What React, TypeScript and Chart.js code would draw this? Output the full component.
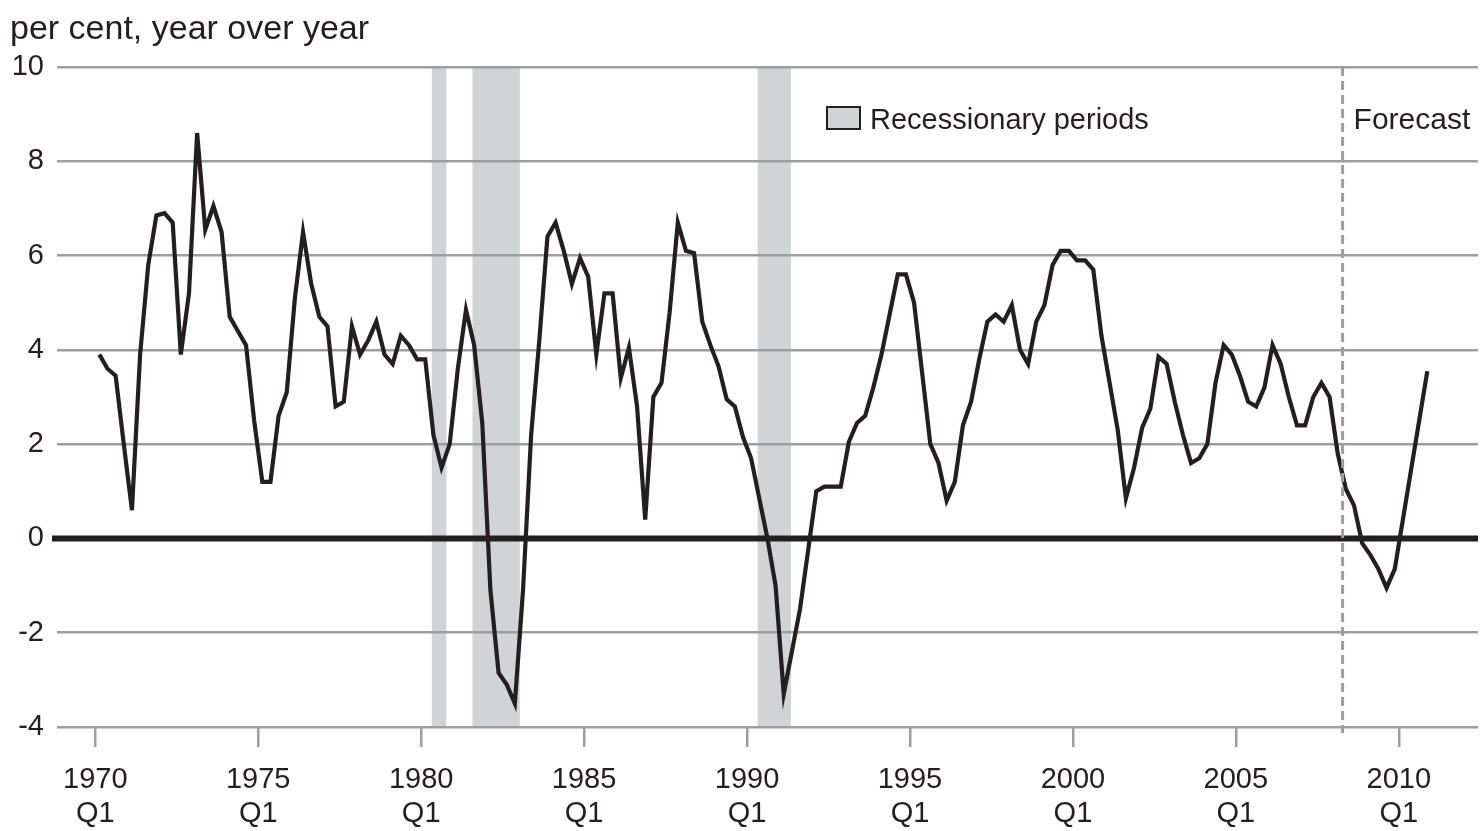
import React, { useEffect, useRef } from 'react';
import { Chart, registerables } from 'chart.js';

Chart.register(...registerables);

// Quarterly growth, per cent year over year, 1970 Q1 .. 2010 Q4
const growth: number[] = [
  3.9, 3.6, 3.45, 2.0, 0.6, 3.9, 5.8, 6.85, 6.9, 6.7,
  3.9, 5.2, 8.6, 6.55, 7.05, 6.5, 4.7, 4.4, 4.1, 2.5,
  1.2, 1.2, 2.6, 3.1, 5.1, 6.5, 5.4, 4.7, 4.5, 2.8,
  2.9, 4.5, 3.9, 4.2, 4.6, 3.9, 3.7, 4.3, 4.1, 3.8,
  3.8, 2.2, 1.5, 2.0, 3.6, 4.85, 4.1, 2.45, -1.1, -2.85,
  -3.1, -3.5, -1.1, 2.2, 4.2, 6.4, 6.7, 6.1, 5.4, 5.95,
  5.55, 3.9, 5.2, 5.2, 3.4, 4.05, 2.8, 0.4, 3.0, 3.3,
  4.8, 6.7, 6.1, 6.05, 4.6, 4.1, 3.65, 2.95, 2.8, 2.15,
  1.7, 0.85, 0.0, -1.0, -3.3, -2.4, -1.5, -0.25, 1.0, 1.1,
  1.1, 1.1, 2.05, 2.45, 2.6, 3.2, 3.9, 4.75, 5.6, 5.6,
  5.0, 3.5, 2.0, 1.6, 0.8, 1.2, 2.4, 2.9, 3.8, 4.6,
  4.75, 4.6, 4.95, 4.0, 3.7, 4.6, 4.95, 5.8, 6.1, 6.1,
  5.9, 5.9, 5.7, 4.3, 3.3, 2.3, 0.85, 1.5, 2.35, 2.75,
  3.85, 3.7, 2.9, 2.2, 1.6, 1.7, 2.0, 3.3, 4.1, 3.9,
  3.45, 2.9, 2.8, 3.2, 4.1, 3.7, 3.0, 2.4, 2.4, 3.0,
  3.3, 3.0, 1.8, 1.05, 0.7, -0.1, -0.35, -0.65, -1.05, -0.65,
  0.4, 1.45, 2.5, 3.55,
];

// x axis: quarters counted from 1970 Q1 (data points sit mid-quarter)
const tickYears = ['1970', '1975', '1980', '1985', '1990', '1995', '2000', '2005', '2010'];
const tickQuarterLabel = 'Q1';
const yTickValues = [-4, -2, 0, 2, 4, 6, 8, 10];

// recession shading and forecast start, in quarters from 1970 Q1
const recessionStart = [41.3, 46.3, 81.3];
const recessionEnd = [43.1, 52.1, 85.4];
const forecastStart = 153.1;

const titleText = 'per cent, year over year';
const legendText = 'Recessionary periods';
const forecastText = 'Forecast';

const FONT = '"Liberation Sans", Arial, Helvetica, sans-serif';
const INK = '#231f20';
const GRID = '#9c9ea1';
const BAND = '#d1d3d4';

export default function App() {
  const ref = useRef<HTMLCanvasElement | null>(null);

  useEffect(() => {
    const canvas = ref.current;
    if (!canvas) return;

    const points = growth.map((v, i) => ({ x: i + 0.5, y: v }));
    const tickValues = tickYears.map((y) => (parseInt(y, 10) - 1970) * 4);

    const decor = {
      id: 'decor',
      beforeDraw(chart: any) {
        const { ctx, chartArea } = chart;
        const xs = chart.scales.x;
        ctx.save();
        ctx.fillStyle = BAND;
        recessionStart.forEach((s, k) => {
          const x0 = xs.getPixelForValue(s);
          const x1 = xs.getPixelForValue(recessionEnd[k]);
          ctx.fillRect(x0, chartArea.top, x1 - x0, chartArea.bottom - chartArea.top);
        });
        ctx.restore();
      },
      beforeDatasetsDraw(chart: any) {
        const { ctx, chartArea } = chart;
        const ys = chart.scales.y;
        const y0 = ys.getPixelForValue(0);
        ctx.save();
        ctx.strokeStyle = INK;
        ctx.lineWidth = 6;
        ctx.beginPath();
        ctx.moveTo(chartArea.left - 5, y0);
        ctx.lineTo(chartArea.right, y0);
        ctx.stroke();
        ctx.restore();
      },
      afterDatasetsDraw(chart: any) {
        const { ctx, chartArea } = chart;
        const xs = chart.scales.x;
        const fx = xs.getPixelForValue(forecastStart);
        ctx.save();
        ctx.strokeStyle = GRID;
        ctx.lineWidth = 3;
        ctx.setLineDash([9, 5]);
        ctx.beginPath();
        ctx.moveTo(fx, chartArea.top);
        ctx.lineTo(fx, chartArea.bottom + 6);
        ctx.stroke();
        ctx.restore();
      },
      afterDraw(chart: any) {
        const { ctx } = chart;
        ctx.save();
        ctx.fillStyle = INK;
        ctx.textBaseline = 'alphabetic';
        ctx.textAlign = 'left';
        ctx.font = `34px ${FONT}`;
        ctx.fillText(titleText, 10, 39);
        // legend
        ctx.fillStyle = BAND;
        ctx.fillRect(827, 107, 33, 22);
        ctx.strokeStyle = INK;
        ctx.lineWidth = 2;
        ctx.strokeRect(827, 107, 33, 22);
        ctx.fillStyle = INK;
        ctx.font = `29px ${FONT}`;
        ctx.fillText(legendText, 870, 129);
        const fx = chart.scales.x.getPixelForValue(forecastStart);
        ctx.font = `30px ${FONT}`;
        ctx.fillText(forecastText, fx + 11, 129);
        ctx.restore();
      },
    };

    const chart = new Chart(canvas, {
      type: 'line',
      data: {
        datasets: [
          {
            data: points,
            borderColor: INK,
            borderWidth: 4.2,
            pointRadius: 0,
            tension: 0,
            borderJoinStyle: 'miter',
            fill: false,
          },
        ],
      },
      options: {
        animation: false,
        responsive: false,
        devicePixelRatio: 1,
        layout: { padding: { top: 67, right: 5, left: 0, bottom: 0 } },
        plugins: { legend: { display: false }, tooltip: { enabled: false }, title: { display: false } },
        scales: {
          x: {
            type: 'linear',
            min: -4.7,
            max: 169.72,
            afterFit: (s: any) => { s.height = 104; },
            afterBuildTicks: (s: any) => { s.ticks = tickValues.map((v) => ({ value: v })); },
            border: { display: false },
            grid: {
              drawOnChartArea: false,
              drawTicks: true,
              tickLength: 20,
              color: GRID,
              lineWidth: 2.5,
            },
            ticks: {
              autoSkip: false,
              maxRotation: 0,
              padding: 16,
              color: INK,
              font: { family: FONT, size: 29, lineHeight: 1.18 },
              callback: (v: any) => {
                const k = tickValues.indexOf(Number(v));
                return k >= 0 ? [tickYears[k], tickQuarterLabel] : '';
              },
            },
          },
          y: {
            min: -4,
            max: 10,
            afterFit: (s: any) => { s.width = 57; },
            afterBuildTicks: (s: any) => { s.ticks = yTickValues.map((v) => ({ value: v })); },
            border: { display: false },
            grid: {
              drawTicks: false,
              color: GRID,
              lineWidth: 2.5,
            },
            ticks: {
              padding: 13,
              color: INK,
              font: { family: FONT, size: 29 },
            },
          },
        },
      },
      plugins: [decor],
    });

    return () => chart.destroy();
  }, []);

  return (
    <div style={{ position: 'absolute', left: 0, top: 0, width: 1483, height: 831, background: '#fff' }}>
      <canvas ref={ref} width={1483} height={831} style={{ display: 'block', width: 1483, height: 831 }} />
    </div>
  );
}
